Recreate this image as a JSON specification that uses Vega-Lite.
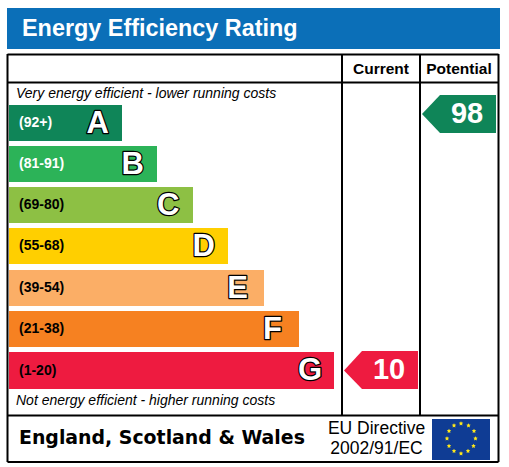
{
  "$schema": "https://vega.github.io/schema/vega-lite/v6.json",
  "width": 509,
  "height": 467,
  "autosize": {"type": "fit", "contains": "padding"},
  "padding": 0,
  "background": "white",
  "config": {"view": {"stroke": null}},
  "datasets": {
    "boxes": [
      {"name": "banner", "x0": 7, "x1": 500, "y0": 8, "y1": 49, "fill": "#0b6fb8"},
      {"name": "flag", "x0": 432, "x1": 490, "y0": 419, "y1": 460, "fill": "#0f3c94"}
    ],
    "bands": [
      {"band": "A", "range": "(92+)", "x0": 9, "x1": 122, "lx": 109, "y0": 105, "y1": 141, "fill": "#0f8558", "ink": "white"},
      {"band": "B", "range": "(81-91)", "x0": 9, "x1": 157, "lx": 144, "y0": 146, "y1": 182, "fill": "#2cb358", "ink": "white"},
      {"band": "C", "range": "(69-80)", "x0": 9, "x1": 193, "lx": 179.5, "y0": 187, "y1": 223, "fill": "#8dc044", "ink": "black"},
      {"band": "D", "range": "(55-68)", "x0": 9, "x1": 228, "lx": 215, "y0": 228, "y1": 264, "fill": "#ffcf00", "ink": "black"},
      {"band": "E", "range": "(39-54)", "x0": 9, "x1": 264, "lx": 248, "y0": 270, "y1": 306, "fill": "#fbae66", "ink": "black"},
      {"band": "F", "range": "(21-38)", "x0": 9, "x1": 299, "lx": 282, "y0": 311, "y1": 347, "fill": "#f68121", "ink": "black"},
      {"band": "G", "range": "(1-20)", "x0": 9, "x1": 334, "lx": 322, "y0": 352, "y1": 389, "fill": "#ee1b40", "ink": "black"}
    ],
    "pointers": [
      {"id": "potential", "x": 422, "y0": 114, "y1": 114, "fill": "#0f8558"},
      {"id": "potential", "x": 440, "y0": 95, "y1": 133, "fill": "#0f8558"},
      {"id": "potential", "x": 496, "y0": 95, "y1": 133, "fill": "#0f8558"},
      {"id": "current", "x": 344, "y0": 370.5, "y1": 370.5, "fill": "#ee1b40"},
      {"id": "current", "x": 362, "y0": 351, "y1": 389, "fill": "#ee1b40"},
      {"id": "current", "x": 418, "y0": 351, "y1": 389, "fill": "#ee1b40"}
    ],
    "lines": [
      {"x0": 7.5, "x1": 498.5, "y0": 54.5, "y1": 54.5},
      {"x0": 7.5, "x1": 498.5, "y0": 82.5, "y1": 82.5},
      {"x0": 7.5, "x1": 498.5, "y0": 415.5, "y1": 415.5},
      {"x0": 7.5, "x1": 498.5, "y0": 462, "y1": 462},
      {"x0": 7.5, "x1": 7.5, "y0": 54, "y1": 462},
      {"x0": 498.5, "x1": 498.5, "y0": 54, "y1": 462},
      {"x0": 342, "x1": 342, "y0": 54, "y1": 415},
      {"x0": 420, "x1": 420, "y0": 54, "y1": 415}
    ],
    "stars": [
      {"x": 461, "y": 423.5},
      {"x": 468.5, "y": 425.5},
      {"x": 474, "y": 431},
      {"x": 475.5, "y": 438.5},
      {"x": 473.5, "y": 446},
      {"x": 468, "y": 451},
      {"x": 461, "y": 453.5},
      {"x": 454, "y": 451},
      {"x": 449, "y": 446},
      {"x": 447, "y": 438.5},
      {"x": 449, "y": 431},
      {"x": 454, "y": 425.5}
    ]
  },
  "data": {"name": "boxes"},
  "encoding": {
    "x": {"type": "quantitative", "scale": {"domain": [0, 509], "nice": false, "zero": false}, "axis": null},
    "y": {"type": "quantitative", "scale": {"domain": [467, 0], "nice": false, "zero": false}, "axis": null}
  },
  "layer": [
    {
      "mark": {"type": "rect"},
      "encoding": {
        "x": {"field": "x0"}, "x2": {"field": "x1"},
        "y": {"field": "y0"}, "y2": {"field": "y1"},
        "fill": {"field": "fill", "type": "nominal", "scale": null}
      }
    },
    {
      "data": {"name": "lines"},
      "mark": {"type": "rule", "color": "black", "strokeWidth": 2},
      "encoding": {
        "x": {"field": "x0"}, "x2": {"field": "x1"},
        "y": {"field": "y0"}, "y2": {"field": "y1"}
      }
    },
    {
      "data": {"name": "bands"},
      "mark": {"type": "rect"},
      "encoding": {
        "x": {"field": "x0"}, "x2": {"field": "x1"},
        "y": {"field": "y0"}, "y2": {"field": "y1"},
        "fill": {"field": "fill", "type": "nominal", "scale": null}
      }
    },
    {
      "data": {"name": "bands"},
      "transform": [{"calculate": "datum.x0 + 10", "as": "tx"}, {"calculate": "(datum.y0 + datum.y1) / 2", "as": "ty"}],
      "mark": {"type": "text", "align": "left", "baseline": "middle", "font": "Liberation Sans", "fontWeight": "bold", "fontSize": 14},
      "encoding": {
        "x": {"field": "tx"}, "y": {"field": "ty"},
        "text": {"field": "range"},
        "fill": {"field": "ink", "type": "nominal", "scale": null}
      }
    },
    {
      "data": {"name": "bands"},
      "transform": [{"calculate": "(datum.y0 + datum.y1) / 2 + 0.5", "as": "ty"}],
      "mark": {"type": "text", "align": "right", "baseline": "middle", "font": "Liberation Sans", "fontWeight": "bold", "fontSize": 31, "stroke": "black", "strokeWidth": 2.5, "strokeJoin": "round"},
      "encoding": {"x": {"field": "lx"}, "y": {"field": "ty"}, "text": {"field": "band"}}
    },
    {
      "data": {"name": "bands"},
      "transform": [{"calculate": "(datum.y0 + datum.y1) / 2 + 0.5", "as": "ty"}],
      "mark": {"type": "text", "align": "right", "baseline": "middle", "font": "Liberation Sans", "fontWeight": "bold", "fontSize": 31, "fill": "white"},
      "encoding": {"x": {"field": "lx"}, "y": {"field": "ty"}, "text": {"field": "band"}}
    },
    {
      "data": {"name": "pointers"},
      "mark": {"type": "area", "opacity": 1},
      "encoding": {
        "x": {"field": "x"},
        "y": {"field": "y0"}, "y2": {"field": "y1"},
        "detail": {"field": "id", "type": "nominal"},
        "fill": {"field": "fill", "type": "nominal", "scale": null}
      }
    },
    {
      "data": {"name": "stars"},
      "mark": {"type": "point", "shape": "M0,-1L0.294,-0.405L0.951,-0.309L0.476,0.155L0.588,0.809L0,0.5L-0.588,0.809L-0.476,0.155L-0.951,-0.309L-0.294,-0.405Z", "filled": true, "color": "#ffe81a", "size": 22, "opacity": 1},
      "encoding": {"x": {"field": "x"}, "y": {"field": "y"}}
    },
    {
      "data": {"values": [{"t": "Energy Efficiency Rating", "x": 22, "y": 29}]},
      "mark": {"type": "text", "align": "left", "baseline": "middle", "font": "Liberation Sans", "fontWeight": "bold", "fontSize": 23.4, "fill": "white"},
      "encoding": {"x": {"field": "x"}, "y": {"field": "y"}, "text": {"field": "t"}}
    },
    {
      "data": {"values": [{"t": "Current", "x": 381, "y": 68.5}, {"t": "Potential", "x": 459, "y": 68.5}]},
      "mark": {"type": "text", "align": "center", "baseline": "middle", "font": "Liberation Sans", "fontWeight": "bold", "fontSize": 15.5, "fill": "black"},
      "encoding": {"x": {"field": "x"}, "y": {"field": "y"}, "text": {"field": "t"}}
    },
    {
      "data": {"values": [{"t": "Very energy efficient - lower running costs", "x": 16, "y": 94}, {"t": "Not energy efficient - higher running costs", "x": 16, "y": 401}]},
      "mark": {"type": "text", "align": "left", "baseline": "middle", "font": "Liberation Sans", "fontStyle": "italic", "fontSize": 14, "fill": "black"},
      "encoding": {"x": {"field": "x"}, "y": {"field": "y"}, "text": {"field": "t"}}
    },
    {
      "data": {"values": [{"t": "98", "x": 467, "y": 114}, {"t": "10", "x": 389, "y": 370}]},
      "mark": {"type": "text", "align": "center", "baseline": "middle", "font": "Liberation Sans", "fontWeight": "bold", "fontSize": 29, "fill": "white"},
      "encoding": {"x": {"field": "x"}, "y": {"field": "y"}, "text": {"field": "t"}}
    },
    {
      "data": {"values": [{"t": "England, Scotland & Wales", "x": 19, "y": 438}]},
      "mark": {"type": "text", "align": "left", "baseline": "middle", "font": "DejaVu Sans", "fontWeight": "bold", "fontSize": 18.9, "fill": "black"},
      "encoding": {"x": {"field": "x"}, "y": {"field": "y"}, "text": {"field": "t"}}
    },
    {
      "data": {"values": [{"t": "EU Directive", "x": 376.5, "y": 428.5}, {"t": "2002/91/EC", "x": 376.5, "y": 449}]},
      "mark": {"type": "text", "align": "center", "baseline": "middle", "font": "Liberation Sans", "fontSize": 17.5, "fill": "black"},
      "encoding": {"x": {"field": "x"}, "y": {"field": "y"}, "text": {"field": "t"}}
    }
  ]
}
